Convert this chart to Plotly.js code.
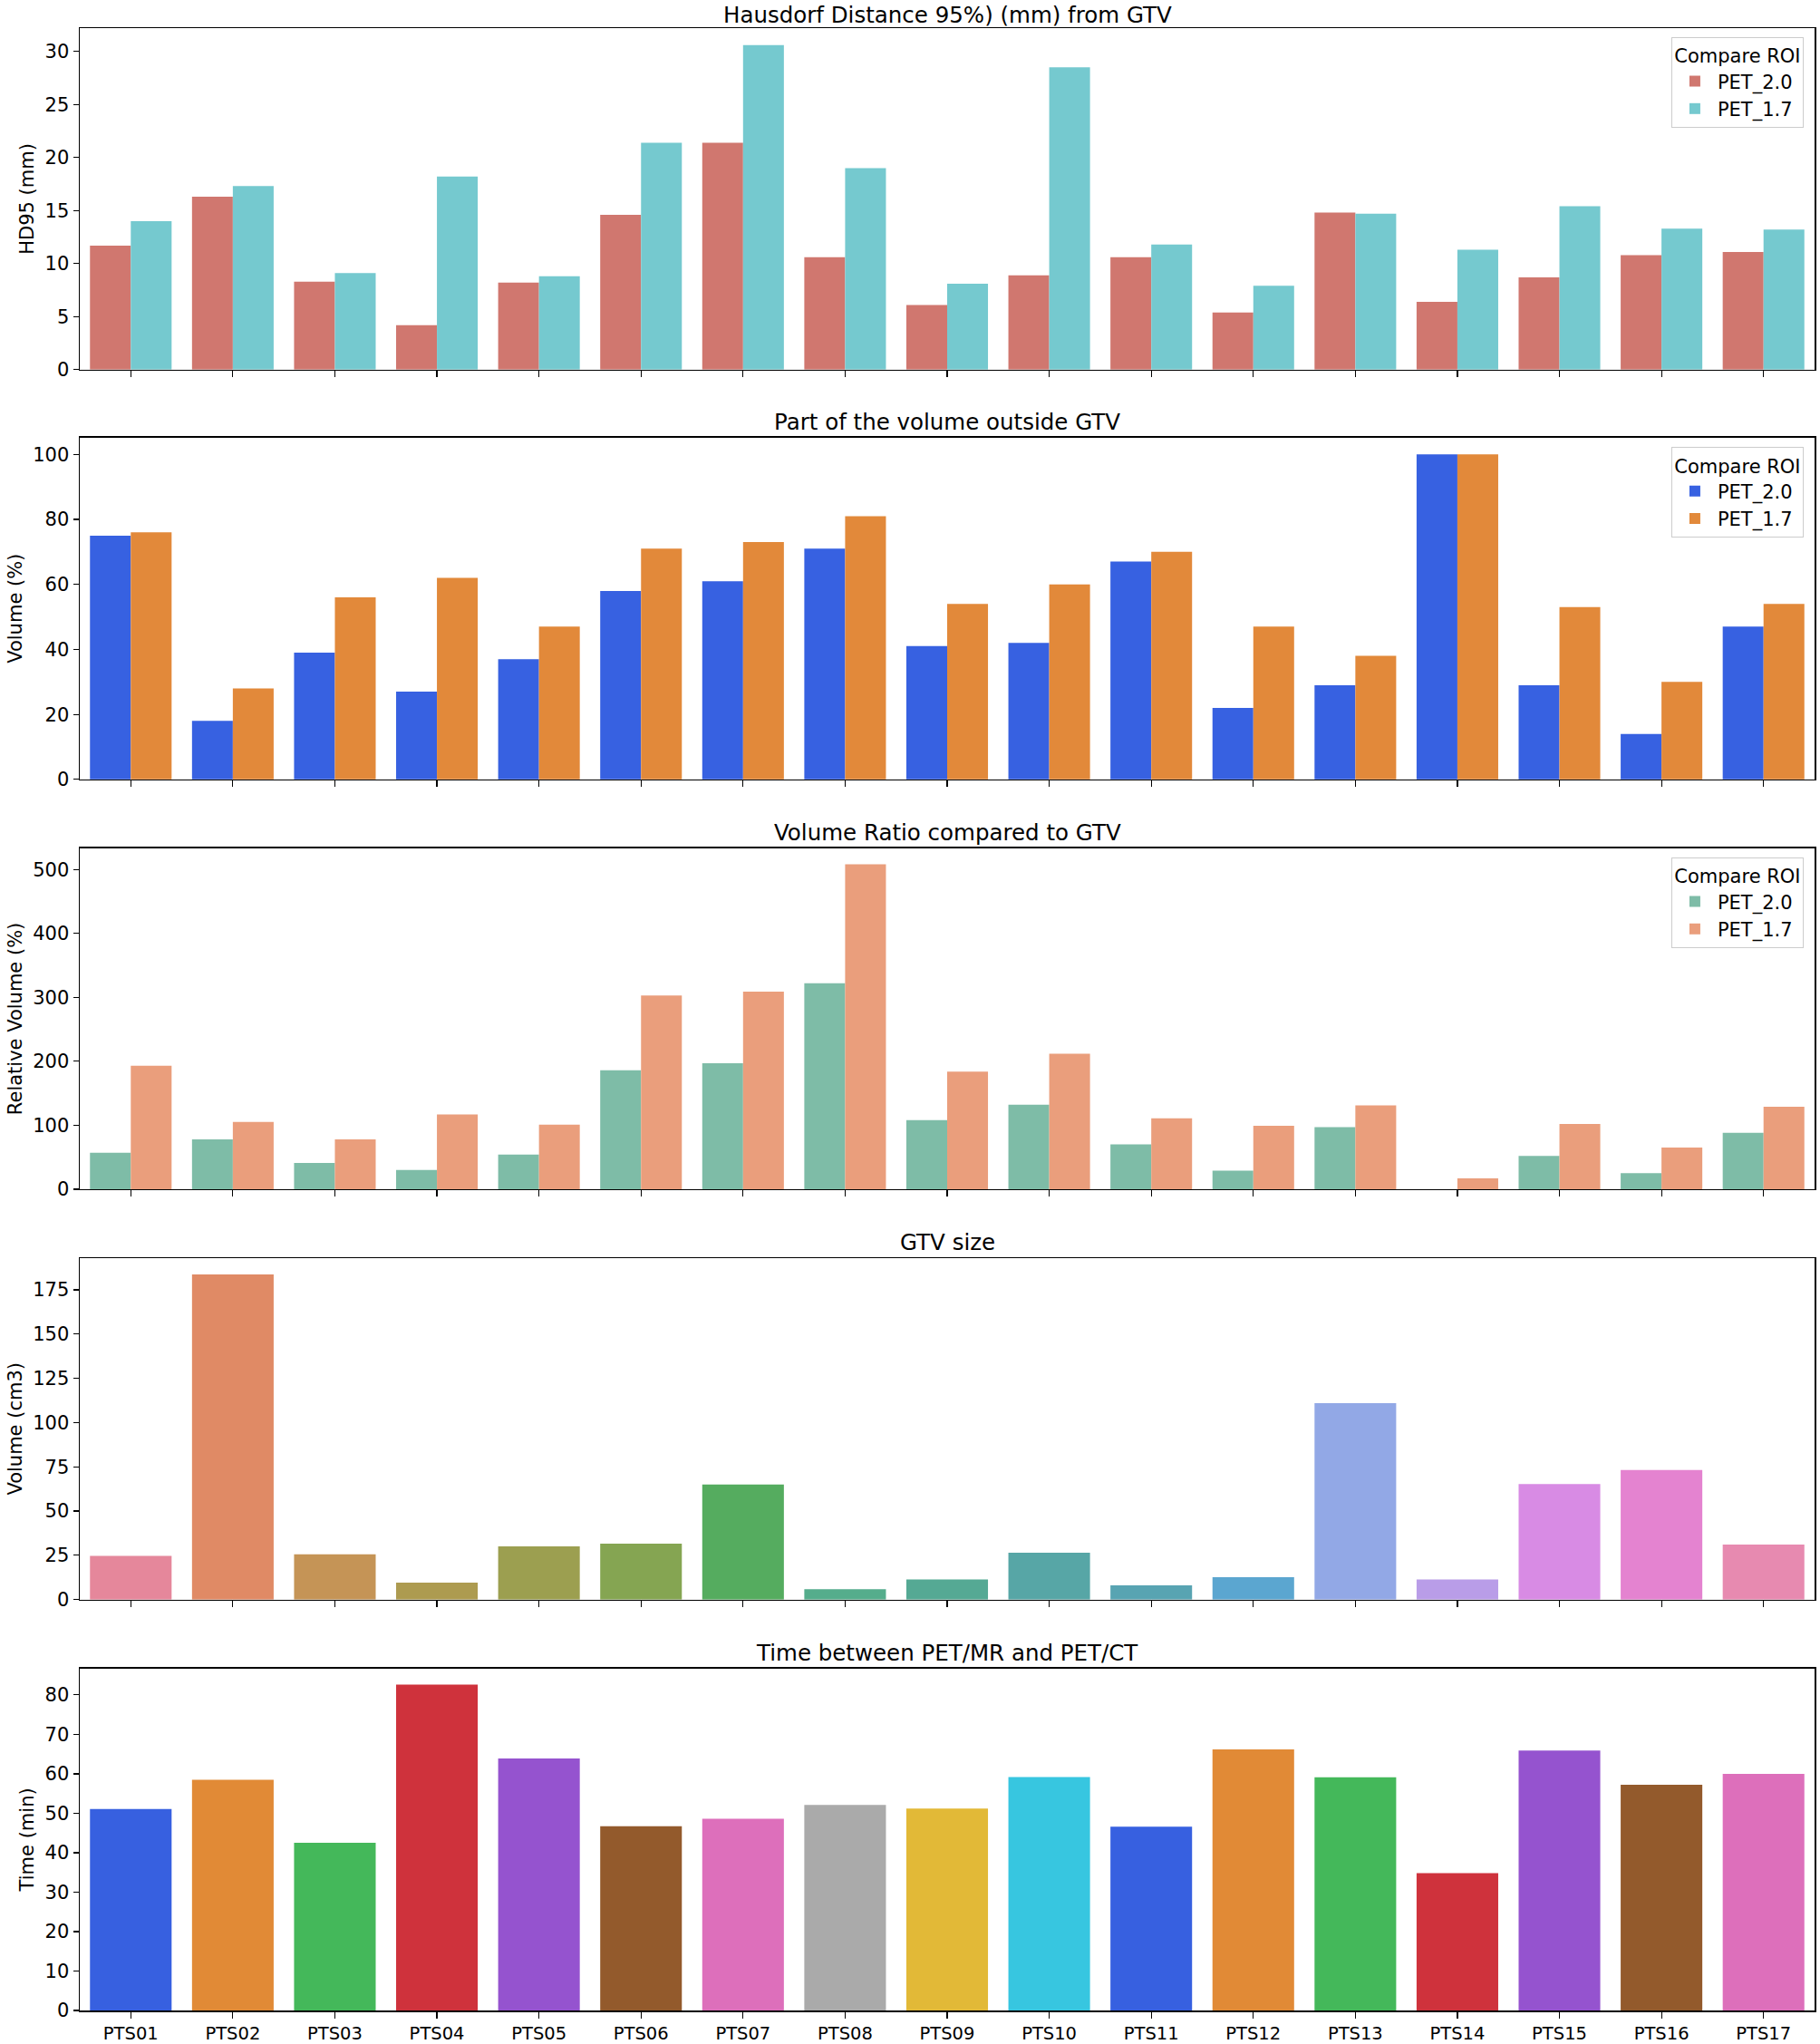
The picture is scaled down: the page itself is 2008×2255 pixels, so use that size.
<!DOCTYPE html>
<html>
<head>
<meta charset="utf-8">
<script src="https://cdn.plot.ly/plotly-3.0.1.min.js"></script>
<style>
  body { margin: 0; background: #fff; }
  #chart { width: 2008px; height: 2255px; }
</style>
</head>
<body>
<div id="chart"></div>
<script>
// patients
var patients = ["PTS01","PTS02","PTS03","PTS04","PTS05","PTS06","PTS07","PTS08","PTS09",
                "PTS10","PTS11","PTS12","PTS13","PTS14","PTS15","PTS16","PTS17"];
var roiNames = ["PET_2.0", "PET_1.7"];

// HD95 (mm)
var hd95_20 = [11.7, 16.3, 8.3, 4.2, 8.2, 14.6, 21.4, 10.6, 6.1, 8.9, 10.6, 5.4, 14.8, 6.4, 8.7, 10.8, 11.1];
var hd95_17 = [14.0, 17.3, 9.1, 18.2, 8.8, 21.4, 30.6, 19.0, 8.1, 28.5, 11.8, 7.9, 14.7, 11.3, 15.4, 13.3, 13.2];

// part of the volume outside GTV (%)
var outside_20 = [75, 18, 39, 27, 37, 58, 61, 71, 41, 42, 67, 22, 29, 100, 29, 14, 47];
var outside_17 = [76, 28, 56, 62, 47, 71, 73, 81, 54, 60, 70, 47, 38, 100, 53, 30, 54];

// relative volume (%)
var ratio_20 = [57, 78, 41, 30, 54, 186, 197, 322, 108, 132, 70, 29, 97, 0, 52, 25, 88];
var ratio_17 = [193, 105, 78, 117, 101, 303, 309, 508, 184, 212, 111, 99, 131, 17, 102, 65, 129];

// GTV size (cm3)
var gtvSize = [24.6, 183.7, 25.6, 9.6, 30.0, 31.6, 65.0, 5.8, 11.4, 26.4, 8.0, 12.6, 111.0, 11.4, 65.3, 73.2, 31.0];

// time between PET/MR and PET/CT (min)
var timeMin = [51.1, 58.5, 42.5, 82.6, 63.9, 46.7, 48.6, 52.1, 51.2, 59.2, 46.6, 66.2, 59.1, 34.8, 65.9, 57.2, 60.0];

var panelTitles = ["Hausdorf Distance 95%) (mm) from GTV", "Part of the volume outside GTV",
                   "Volume Ratio compared to GTV", "GTV size", "Time between PET/MR and PET/CT"];
var yTitles = ["HD95 (mm)", "Volume (%)", "Relative Volume (%)", "Volume (cm3)", "Time (min)"];

// colours
var pairColors = [["#d0776f", "#75c9cf"], ["#3761e1", "#e2893a"], ["#7ebca7", "#ea9e7c"]];
var gtvColors = ["#e5879b","#e08a65","#c59456","#ad9b50","#9c9f50","#85a552","#55ac5f","#55ad8c","#55a994",
                 "#57a6a6","#58a4b2","#5ba6d0","#92a8e6","#b99de8","#d88be4","#e483d0","#e78ab0"];
var timeColors = ["#3760e0","#e18a36","#44b85a","#cf323c","#9553cf","#935a2c","#dd6fbb","#aaaaaa","#e2b937",
                  "#37c6e0","#3760e0","#e18a36","#44b85a","#cf323c","#9553cf","#935a2c","#dd6fbb"];

var FONT = "DejaVu Sans, Liberation Sans, sans-serif";

// subplot layout (paper fractions)
var domains = [[0.8277, 1.0], [0.6210, 0.7935], [0.4143, 0.5862], [0.2073, 0.3795], [0.0, 0.1725]];
var yRanges = [[0, 32.2], [0, 105.2], [0, 533], [0, 192.9], [0, 86.7]];
var yDticks = [5, 20, 100, 25, 10];
var legendTops = [0.9954, 0.7886, 0.5816];

var data = [];
var pairSeries = [[hd95_20, hd95_17], [outside_20, outside_17], [ratio_20, ratio_17]];
var legendIds = ["legend", "legend2", "legend3"];

for (var p = 0; p < 3; p++) {
  for (var s = 0; s < 2; s++) {
    data.push({
      type: "bar",
      x: patients,
      y: pairSeries[p][s],
      name: roiNames[s],
      marker: { color: pairColors[p][s], line: { width: 0 } },
      xaxis: p == 0 ? "x" : "x" + (p + 1),
      yaxis: p == 0 ? "y" : "y" + (p + 1),
      legend: legendIds[p]
    });
  }
}

data.push({
  type: "bar", x: patients, y: gtvSize, showlegend: false,
  marker: { color: gtvColors, line: { width: 0 } },
  xaxis: "x4", yaxis: "y4"
});
data.push({
  type: "bar", x: patients, y: timeMin, showlegend: false,
  marker: { color: timeColors, line: { width: 0 } },
  xaxis: "x5", yaxis: "y5"
});

var layout = {
  width: 2008,
  height: 2255,
  margin: { l: 88, r: 6, t: 31, b: 37 },
  paper_bgcolor: "#ffffff",
  plot_bgcolor: "#ffffff",
  font: { family: FONT, size: 21, color: "#000" },
  barmode: "group",
  bargap: 0.2,
  bargroupgap: 0,
  annotations: []
};

for (var i = 0; i < 5; i++) {
  var sfx = i == 0 ? "" : String(i + 1);
  layout["xaxis" + sfx] = {
    type: "category",
    domain: [0, 1],
    anchor: "y" + sfx,
    range: [-0.5, 16.5],
    showgrid: false,
    zeroline: false,
    showline: true,
    mirror: true,
    linecolor: "#000",
    linewidth: 1.5,
    ticks: "outside",
    ticklen: 7,
    tickwidth: 1.2,
    tickcolor: "#000",
    showticklabels: i == 4,
    tickfont: { family: FONT, size: 19.5, color: "#000" }
  };
  layout["yaxis" + sfx] = {
    domain: domains[i],
    anchor: "x" + sfx,
    range: yRanges[i],
    dtick: yDticks[i],
    tick0: 0,
    showgrid: false,
    zeroline: false,
    showline: true,
    mirror: true,
    linecolor: "#000",
    linewidth: 1.5,
    ticks: "outside",
    ticklen: 6,
    tickwidth: 1.2,
    tickcolor: "#000",
    tickfont: { family: FONT, size: 21, color: "#000" },
    title: { text: yTitles[i], font: { family: FONT, size: 21, color: "#000" }, standoff: 6 }
  };
  layout.annotations.push({
    text: panelTitles[i],
    xref: "paper", yref: "paper",
    x: 0.5, y: domains[i][1],
    xanchor: "center", yanchor: "bottom",
    yshift: i == 0 ? -2 : 1,
    showarrow: false,
    font: { family: FONT, size: 24.5, color: "#000" }
  });
}

for (var k = 0; k < 3; k++) {
  layout[legendIds[k]] = {
    x: 0.9937, y: legendTops[k],
    xanchor: "right", yanchor: "top",
    bgcolor: "rgba(255,255,255,0.85)",
    bordercolor: "#cccccc",
    borderwidth: 1,
    traceorder: "normal",
    itemwidth: 40,
    font: { family: FONT, size: 21, color: "#000" },
    title: { text: "Compare ROI", side: "top center", font: { family: FONT, size: 21, color: "#000" } }
  };
}

Plotly.newPlot("chart", data, layout, { staticPlot: true });
</script>
</body>
</html>
